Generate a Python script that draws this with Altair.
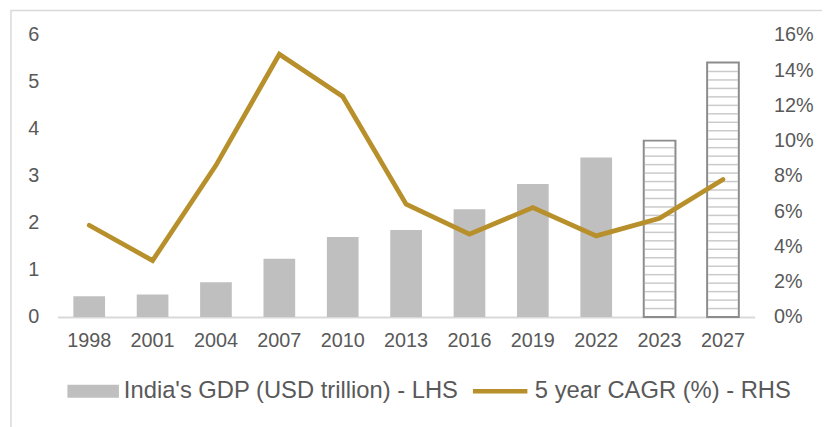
import altair as alt
import pandas as pd
import numpy as np

years = ["1998", "2001", "2004", "2007", "2010", "2013", "2016", "2019", "2022", "2023", "2027"]
gdp = [0.44, 0.48, 0.74, 1.24, 1.70, 1.85, 2.29, 2.83, 3.39, 3.75, 5.41]
cagr = [5.2, 3.2, 8.6, 14.9, 12.5, 6.4, 4.7, 6.2, 4.6, 5.6, 7.8]
forecast = [False] * 9 + [True] * 2

GDP_LABEL = "India's GDP (USD trillion) - LHS"
CAGR_LABEL = "5 year CAGR (%) - RHS"

df = pd.DataFrame({"year": years, "gdp": gdp, "cagr": cagr, "forecast": forecast})
df["s_gdp"] = GDP_LABEL
df["s_cagr"] = CAGR_LABEL

# hatch lines inside forecast bars
hatch_rows = []
for y, g, f in zip(years, gdp, forecast):
    if f:
        for v in np.arange(0.18, g - 0.05, 0.18):
            hatch_rows.append({"year": y, "v": float(v)})
hatch_df = pd.DataFrame(hatch_rows)

FONT = "Liberation Sans"
TXT = "#595959"
GOLD = "#b8902b"
GRAY = "#bfbfbf"
AX_FS = 20
LG_FS = 24

x_enc = alt.X("year:N", sort=years, title=None,
              scale=alt.Scale(paddingInner=0.5, paddingOuter=0.25),
              axis=alt.Axis(labelAngle=0, ticks=False, domainColor="#d9d9d9", domainWidth=2,
                            labelPadding=14, labelFontSize=AX_FS, labelColor=TXT, labelFont=FONT))

left_axis = alt.Axis(values=[0, 1, 2, 3, 4, 5, 6], ticks=False, domain=False, grid=False,
                     labelPadding=19, labelFontSize=AX_FS, labelColor=TXT, labelFont=FONT)
left_scale = alt.Scale(domain=[0, 6], nice=False)

legend_gdp = alt.Legend(
    title=None, orient="none", legendX=10, legendY=334,
    labelFontSize=LG_FS, labelColor=TXT, labelFont=FONT, labelLimit=600,
    symbolType="M-1,-0.25H1V0.25H-1Z", symbolSize=2704, symbolStrokeWidth=0,
    labelOffset=5,
)
legend_cagr = alt.Legend(
    title=None, orient="none", legendX=417, legendY=330,
    labelFontSize=LG_FS, labelColor=TXT, labelFont=FONT, labelLimit=600,
    symbolType="stroke", symbolSize=3025, symbolStrokeWidth=4.5,
    labelOffset=5,
)

base = alt.Chart(df)

bars = base.transform_filter("!datum.forecast").mark_bar().encode(
    x=x_enc,
    y=alt.Y("gdp:Q", scale=left_scale, axis=left_axis, title=None),
    fill=alt.Fill("s_gdp:N", scale=alt.Scale(domain=[GDP_LABEL], range=[GRAY]), legend=legend_gdp),
)

fbars = base.transform_filter("datum.forecast").mark_bar(
    fill="white", stroke="#8c8c8c", strokeWidth=2
).encode(
    x=x_enc,
    y=alt.Y("gdp:Q", scale=left_scale, axis=left_axis, title=None),
)

hatch = alt.Chart(hatch_df).mark_tick(color="#b3b3b3", thickness=1.5, size=30).encode(
    x=x_enc,
    y=alt.Y("v:Q", scale=left_scale, axis=left_axis, title=None),
)

line = base.mark_line(strokeWidth=4.8, strokeJoin="miter", strokeCap="round").encode(
    x=x_enc,
    y=alt.Y("cagr:Q", scale=alt.Scale(domain=[0, 16], nice=False), title=None,
            axis=alt.Axis(orient="right", values=[0, 2, 4, 6, 8, 10, 12, 14, 16], ticks=False,
                          domain=False, grid=False, labelExpr="datum.value + '%'",
                          labelPadding=19, labelFontSize=AX_FS, labelColor=TXT, labelFont=FONT)),
    stroke=alt.Stroke("s_cagr:N", scale=alt.Scale(domain=[CAGR_LABEL], range=[GOLD]), legend=legend_cagr),
)

frame = alt.Chart(pd.DataFrame({"k": [0]})).mark_rect(
    fill="transparent", stroke="#d9d9d9", strokeWidth=1.5
).encode(x=alt.value(-47), x2=alt.value(900), y=alt.value(-24.5), y2=alt.value(500))

chart = alt.layer(
    alt.layer(bars, fbars, hatch),
    line,
    frame,
).resolve_scale(y="independent").properties(
    width=704, height=285,
    autosize=alt.AutoSizeParams(type="none"),
    padding={"left": 50, "top": 25, "right": 68, "bottom": 109},
).configure_view(stroke=None)

chart.save("out.html", embed_options={"renderer": "svg", "actions": False})
